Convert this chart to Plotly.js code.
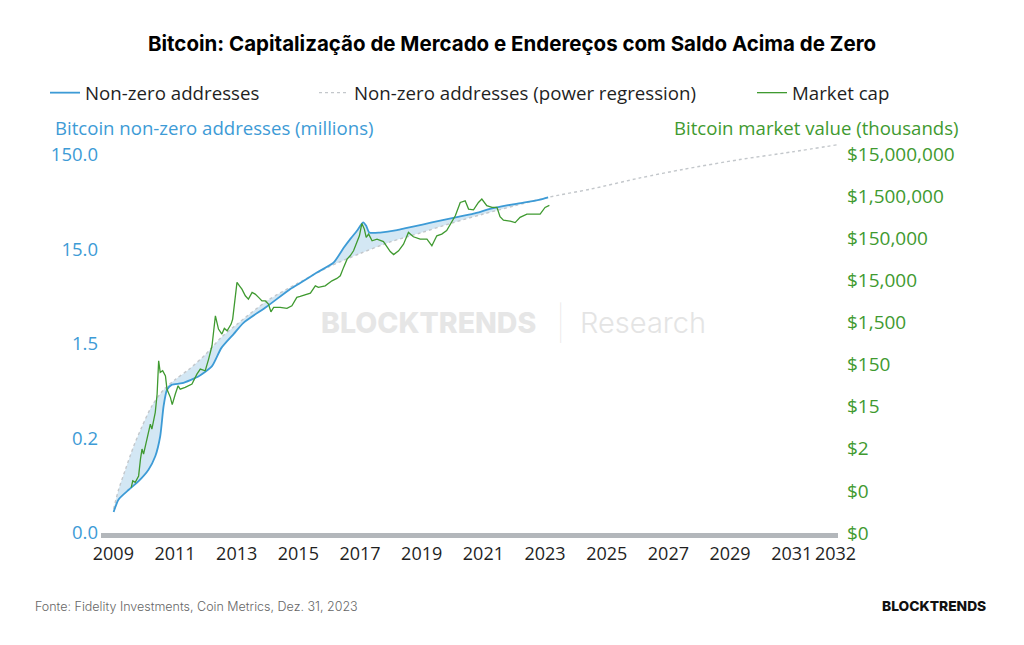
<!DOCTYPE html>
<html>
<head>
<meta charset="utf-8">
<script src="https://cdn.plot.ly/plotly-3.0.1.min.js"></script>
<style>
  html, body { margin: 0; padding: 0; background: #ffffff; }
  #chart { width: 1024px; height: 645px; }
</style>
</head>
<body>
<div id="chart"></div>
<script>
// ---- Non-zero addresses (millions), x in chart-year units ----
const addrYears = [2009.01, 2009.17, 2009.5, 2009.82, 2010.14, 2010.36, 2010.52, 2010.63, 2010.74, 2010.9,
  2011.23, 2011.77, 2012.2, 2012.5, 2012.9, 2013.22, 2013.97, 2014.74, 2015.06, 2015.6,
  2016.14, 2016.47, 2016.7, 2016.9, 2017.1, 2017.2, 2017.3, 2017.65, 2018.2, 2018.52,
  2019.06, 2019.6, 2020.14, 2020.68, 2021.22, 2021.76, 2022.3, 2022.84, 2023.1];
const addresses = [0.025, 0.034, 0.043, 0.053, 0.070, 0.097, 0.158, 0.33, 0.49, 0.555,
  0.575, 0.68, 0.87, 1.35, 1.9, 2.5, 3.7, 5.7, 6.6, 8.5,
  10.8, 15.5, 19.5, 23.5, 28.8, 26.5, 22.5, 22.5, 23.8, 25.2,
  27.5, 30.1, 32.7, 35.6, 40.0, 43.5, 46.5, 50.2, 53.0];

// ---- Power regression of non-zero addresses (millions) ----
const regYears = [2009.01, 2009.17, 2009.39, 2009.66, 2009.93, 2010.25, 2010.63, 2011.01, 2011.44, 2011.98,
  2012.5, 2013.0, 2014.0, 2015.0, 2016.0, 2017.0, 2018.0, 2019.0, 2020.0, 2021.0,
  2022.0, 2023.1, 2024.5, 2026.08, 2027.5, 2029.32, 2031.0, 2032.5];
const regression = [0.027, 0.043, 0.070, 0.124, 0.20, 0.33, 0.49, 0.63, 0.80, 1.15,
  1.75, 2.4, 4.3, 6.6, 9.8, 13.5, 18.0, 22.5, 28.5, 35.3,
  43.0, 53.0, 65.0, 85.0, 105.0, 133.0, 160.0, 191.0];

// ---- Market cap (axis units: "thousands") ----
const capYears = [2009.58, 2009.63, 2009.71, 2009.82, 2009.88, 2009.93, 2009.98, 2010.04, 2010.14, 2010.20,
  2010.25, 2010.36, 2010.42, 2010.47, 2010.52, 2010.60, 2010.69, 2010.74, 2010.85, 2010.91,
  2011.01, 2011.10, 2011.17, 2011.33, 2011.55, 2011.71, 2011.82, 2011.98, 2012.09, 2012.20,
  2012.31, 2012.36, 2012.41, 2012.52, 2012.60, 2012.69, 2012.82, 2012.87, 2012.95, 2013.01,
  2013.09, 2013.17, 2013.28, 2013.38, 2013.50, 2013.60, 2013.71, 2013.82, 2013.93, 2014.03,
  2014.11, 2014.20, 2014.41, 2014.63, 2014.79, 2014.95, 2015.06, 2015.22, 2015.39, 2015.55,
  2015.65, 2015.87, 2016.09, 2016.25, 2016.36, 2016.47, 2016.58, 2016.68, 2016.79, 2016.90,
  2016.98, 2017.06, 2017.14, 2017.20, 2017.28, 2017.39, 2017.55, 2017.76, 2017.98, 2018.09,
  2018.25, 2018.41, 2018.57, 2018.73, 2018.95, 2019.17, 2019.33, 2019.49, 2019.65, 2019.81,
  2019.97, 2020.09, 2020.25, 2020.41, 2020.52, 2020.68, 2020.84, 2020.95, 2021.11, 2021.28,
  2021.44, 2021.54, 2021.65, 2021.87, 2022.03, 2022.19, 2022.41, 2022.62, 2022.84, 2023.00,
  2023.14];
const marketCap = [0.18, 0.26, 0.24, 0.34, 0.85, 1.48, 1.12, 1.77, 4.4, 5.8,
  4.4, 11, 30, 185, 98, 107, 81, 39, 25, 16.8,
  30, 47, 39, 43, 52, 89, 117, 107, 203, 420,
  2165, 1500, 1045, 795, 1086, 952, 1374, 1807, 6465, 13460,
  11160, 9310, 6465, 5400, 7790, 7100, 5930, 4900, 4900, 4100,
  2690, 3430, 3430, 3245, 3735, 5930, 6250, 6700, 7480, 11160,
  10230, 11160, 14680, 16720, 19300, 31000, 48000, 57600, 75700, 121800,
  172000, 338700, 248000, 157500, 188700, 130800, 143500, 125000, 72500, 61500,
  75700, 109000, 207000, 163000, 143500, 143500, 99600, 172000, 188700, 228600,
  357700, 513000, 1068000, 1166000, 741000, 710000, 1068000, 1280000, 897000, 813000,
  813000, 490000, 405000, 384000, 354000, 471000, 564000, 564000, 564000, 813000,
  907000];

// ---- Tick labels (the last label sits near the end of the axis, as in the source) ----
const xTickVals = [2009, 2011, 2013, 2015, 2017, 2019, 2021, 2023, 2025, 2027, 2029, 2031, 2032.42];
const xTickText = ['2009', '2011', '2013', '2015', '2017', '2019', '2021', '2023', '2025', '2027', '2029', '2031', '2032'];
const leftTickVals = [0.015, 0.15, 1.5, 15, 150];
const leftTickText = ['0.0', '0.2', '1.5', '15.0', '150.0'];
const rightTickVals = [0.015, 0.15, 1.5, 15, 150, 1500, 15000, 150000, 1500000, 15000000];
const rightTickText = ['$0', '$0', '$2', '$15', '$150', '$1,500', '$15,000', '$150,000', '$1,500,000', '$15,000,000'];

const BLUE = '#3d9bd6';
const GREEN = '#3f9a30';
const GRAY = '#c3c7cb';
const BAND = '#d3e7f4';
const FONT = 'Open Sans, Noto Sans, sans-serif';

// helper: regression portion overlapping the address series (for the shaded band)
const lastAddr = addrYears[addrYears.length - 1];
const bandYears = regYears.filter(y => y <= lastAddr + 1e-9);
const bandReg = regression.slice(0, bandYears.length);

const traces = [
  { x: bandYears, y: bandReg, type: 'scatter', mode: 'lines', line: { width: 0, shape: 'spline', smoothing: 0.8 },
    showlegend: false, hoverinfo: 'skip', yaxis: 'y' },
  { x: addrYears, y: addresses, type: 'scatter', mode: 'lines',
    line: { width: 0, shape: 'spline', smoothing: 0.6 }, fill: 'tonexty', fillcolor: BAND,
    showlegend: false, hoverinfo: 'skip', yaxis: 'y' },
  { x: regYears, y: regression, type: 'scatter', mode: 'lines', name: 'Non-zero addresses (power regression)',
    line: { color: GRAY, width: 1.4, dash: 'dot', shape: 'spline', smoothing: 0.8 }, yaxis: 'y', legend: 'legend2' },
  { x: addrYears, y: addresses, type: 'scatter', mode: 'lines', name: 'Non-zero addresses',
    line: { color: BLUE, width: 1.8, shape: 'spline', smoothing: 0.6 },
    yaxis: 'y', legend: 'legend' },
  { x: capYears, y: marketCap, type: 'scatter', mode: 'lines', name: 'Market cap',
    line: { color: GREEN, width: 1.3 }, yaxis: 'y2', legend: 'legend3' }
];

const legendBase = { xref: 'container', yref: 'container', yanchor: 'middle', xanchor: 'left',
  orientation: 'h', bgcolor: 'rgba(0,0,0,0)', itemwidth: 30,
  font: { family: FONT, size: 18.7, color: '#1f1f1f' } };

const layout = {
  width: 1024, height: 645,
  paper_bgcolor: '#ffffff', plot_bgcolor: '#ffffff',
  margin: { l: 101, r: 186, t: 140, b: 112 },
  title: { text: 'Bitcoin: Capitalização de Mercado e Endereços com Saldo Acima de Zero',
    x: 0.5, xref: 'container', xanchor: 'center', y: 1 - 44 / 645, yanchor: 'middle',
    font: { family: 'Inter, Roboto, sans-serif', size: 20.5, weight: 700, color: '#000000' } },
  showlegend: true,
  legend: Object.assign({}, legendBase, { x: 45 / 1024, y: 1 - 93 / 645 }),
  legend2: Object.assign({}, legendBase, { x: 314 / 1024, y: 1 - 93 / 645 }),
  legend3: Object.assign({}, legendBase, { x: 752 / 1024, y: 1 - 93 / 645 }),
  xaxis: {
    range: [2008.6, 2032.5], tickvals: xTickVals, ticktext: xTickText, tickangle: 0,
    showgrid: false, zeroline: false, showline: true, linecolor: '#b3b7bb', linewidth: 5,
    ticks: '', tickfont: { family: FONT, size: 18, color: '#1f1f1f' },
    ticklabelstandoff: 0
  },
  yaxis: {
    type: 'log', range: [Math.log10(0.015), Math.log10(0.015) + 393 / 94.6],
    tickvals: leftTickVals, ticktext: leftTickText,
    showgrid: false, zeroline: false, showline: false, ticks: '',
    tickfont: { family: FONT, size: 18.5, color: BLUE }, ticklabelstandoff: 2
  },
  yaxis2: {
    type: 'log', overlaying: 'y', side: 'right',
    range: [Math.log10(0.015), Math.log10(0.015) + 393 / 42.1],
    tickvals: rightTickVals, ticktext: rightTickText,
    showgrid: false, zeroline: false, showline: false, ticks: '',
    tickfont: { family: FONT, size: 19, color: GREEN }, ticklabelstandoff: 8
  },
  annotations: [
    { text: 'Bitcoin non-zero addresses (millions)', xref: 'paper', yref: 'paper',
      x: (53 - 101) / 737, y: (533 - 128) / 393, xanchor: 'left', yanchor: 'middle', showarrow: false,
      font: { family: FONT, size: 18.6, color: BLUE } },
    { text: 'Bitcoin market value (thousands)', xref: 'paper', yref: 'paper',
      x: (961 - 101) / 737, y: (533 - 128) / 393, xanchor: 'right', yanchor: 'middle', showarrow: false,
      font: { family: FONT, size: 18.6, color: GREEN } },
    { text: 'Fonte: Fidelity Investments, Coin Metrics, Dez. 31, 2023', xref: 'paper', yref: 'paper',
      x: (33 - 101) / 737, y: (533 - 606) / 393, xanchor: 'left', yanchor: 'middle', showarrow: false,
      font: { family: 'Inter, Roboto, sans-serif', size: 12.5, color: '#666666', weight: 300 } },
    { text: 'BLOCKTRENDS', xref: 'paper', yref: 'paper',
      x: (988 - 101) / 737, y: (533 - 606) / 393, xanchor: 'right', yanchor: 'middle', showarrow: false,
      font: { family: 'Inter, Roboto, sans-serif', size: 13.8, color: '#111111', weight: 800 } },
    { text: 'BLOCKTRENDS', xref: 'paper', yref: 'paper',
      x: (428 - 101) / 737, y: (533 - 322) / 393, xanchor: 'center', yanchor: 'middle', showarrow: false,
      font: { family: 'Inter, Roboto, sans-serif', size: 28.5, color: '#e6e6e6', weight: 800 } },
    { text: '|', xref: 'paper', yref: 'paper',
      x: (560 - 101) / 737, y: (533 - 322) / 393, xanchor: 'center', yanchor: 'middle', showarrow: false,
      font: { family: 'Inter, Roboto, sans-serif', size: 34, color: '#e8e8e8', weight: 100 } },
    { text: 'Research', xref: 'paper', yref: 'paper',
      x: (643 - 101) / 737, y: (533 - 322) / 393, xanchor: 'center', yanchor: 'middle', showarrow: false,
      font: { family: 'Inter, Roboto, sans-serif', size: 29, color: '#e4e4e4', weight: 300 } }
  ]
};

Plotly.newPlot('chart', traces, layout, { displayModeBar: false, staticPlot: true });
</script>
</body>
</html>
